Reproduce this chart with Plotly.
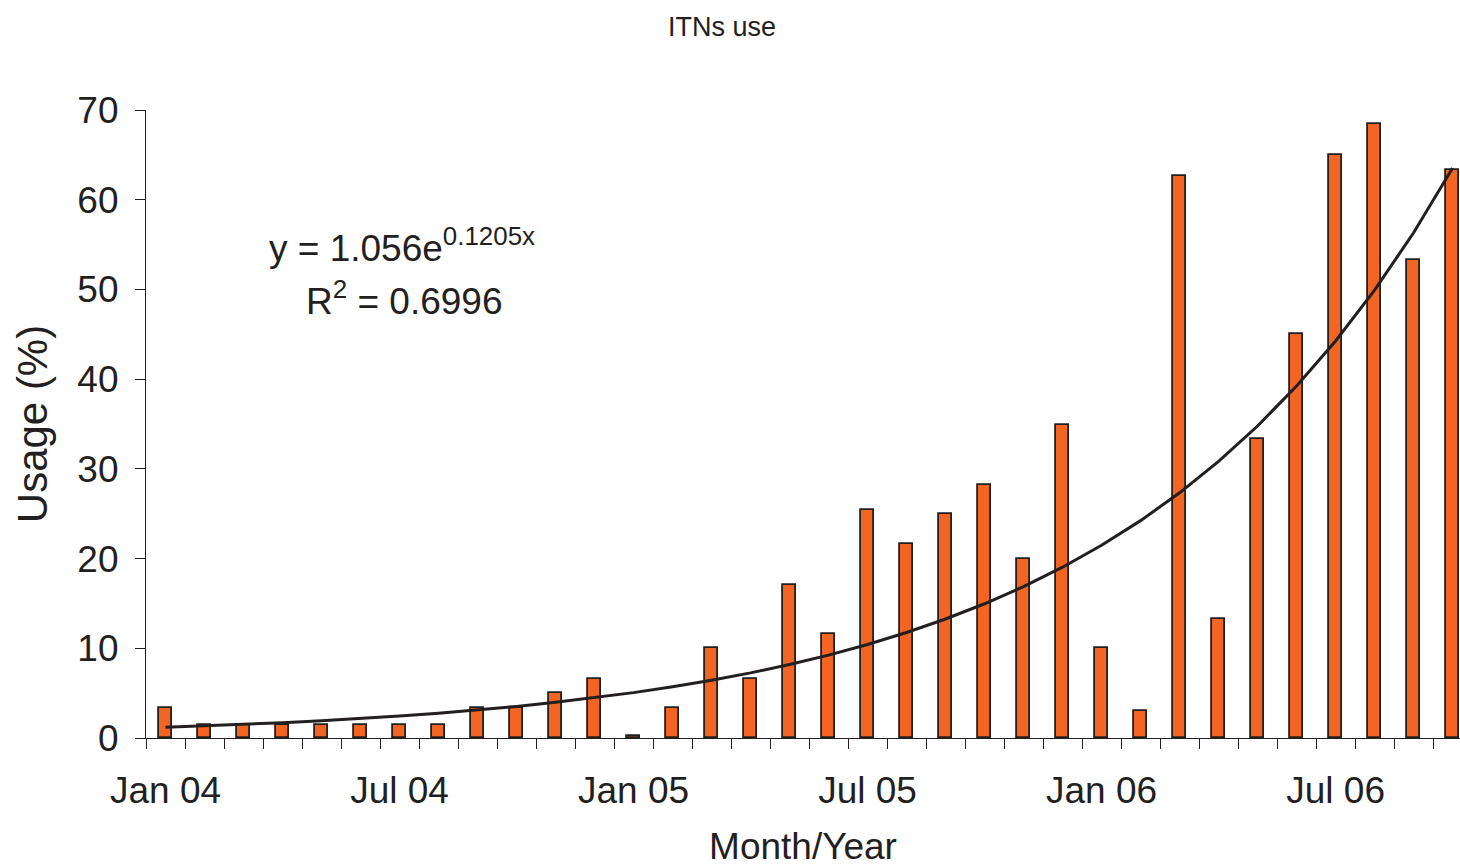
import numpy as np
import plotly.graph_objects as go

months = ["Jan 04","Feb 04","Mar 04","Apr 04","May 04","Jun 04","Jul 04","Aug 04","Sep 04","Oct 04","Nov 04","Dec 04",
          "Jan 05","Feb 05","Mar 05","Apr 05","May 05","Jun 05","Jul 05","Aug 05","Sep 05","Oct 05","Nov 05","Dec 05",
          "Jan 06","Feb 06","Mar 06","Apr 06","May 06","Jun 06","Jul 06","Aug 06","Sep 06","Oct 06"]
usage = [3.4, 1.5, 1.5, 1.5, 1.5, 1.5, 1.5, 1.5, 3.4, 3.4, 5.0, 6.6,
         0.2, 3.4, 10.0, 6.6, 17.1, 11.6, 25.4, 21.6, 25.0, 28.2, 20.0, 34.9,
         10.0, 3.0, 62.6, 13.3, 33.3, 45.0, 65.0, 68.4, 53.3, 63.3]
tick_labels = ["Jan 04", "Jul 04", "Jan 05", "Jul 05", "Jan 06", "Jul 06"]
y_ticks = [0, 10, 20, 30, 40, 50, 60, 70]

# Exponential trendline coefficients as printed on the chart
trend_a = 1.056
trend_b = 0.1205

idx = np.arange(len(months))
trend = trend_a * np.exp(trend_b * (idx + 1))

dark = "#231f20"
font = "Liberation Sans, Arial, sans-serif"

fig = go.Figure()
fig.add_trace(go.Bar(x=idx, y=usage, width=0.34,
                     marker=dict(color="#f26522", line=dict(color=dark, width=1.8)),
                     showlegend=False))
fig.add_trace(go.Scatter(x=idx, y=trend, mode="lines",
                         line=dict(color=dark, width=3), showlegend=False))

label_pos = [months.index(t) for t in tick_labels]

fig.update_layout(
    width=1460, height=867,
    margin=dict(l=146, r=0, t=110, b=129),
    plot_bgcolor="white", paper_bgcolor="white",
    font=dict(family=font, color=dark),
    bargap=0,
    title=dict(text="ITNs use", x=722/1460, xanchor="center", y=1-27/867, yanchor="middle",
               font=dict(size=27, family=font, color=dark)),
    xaxis=dict(range=[-0.5, 33.19], tickmode="array", tickvals=label_pos, ticktext=tick_labels,
               ticks="outside", ticklen=19, tickcolor="rgba(0,0,0,0)", automargin=False,
               tickfont=dict(size=37, family=font, color=dark),
               showline=True, linecolor=dark, linewidth=1.2, showgrid=False, zeroline=False,
               minor=dict(tickmode="array", tickvals=[i - 0.5 for i in range(len(months) + 1)],
                          ticks="outside", ticklen=10, tickwidth=1.2, tickcolor=dark, showgrid=False),
               title=dict(text="Month/Year", font=dict(size=37, family=font, color=dark), standoff=27)),
    yaxis=dict(range=[0, 70], tickmode="array", tickvals=y_ticks, automargin=False,
               ticks="outside", ticklen=10, tickwidth=1.2, tickcolor=dark, ticklabelstandoff=9,
               tickfont=dict(size=37, family=font, color=dark),
               showline=True, linecolor=dark, linewidth=1.2, showgrid=False, zeroline=False,
               title=dict(text="Usage (%)", font=dict(size=42, family=font, color=dark), standoff=16)),
)

fig.add_annotation(xref="paper", yref="paper", x=(402-146)/1314, y=(738-246)/628,
                   text="y = 1.056e<sup>0.1205x</sup>", showarrow=False,
                   font=dict(size=37, family=font, color=dark), xanchor="center", yanchor="middle")
fig.add_annotation(xref="paper", yref="paper", x=(404-146)/1314, y=(738-298)/628,
                   text="R<sup>2</sup> = 0.6996", showarrow=False,
                   font=dict(size=37, family=font, color=dark), xanchor="center", yanchor="middle")

fig.write_html("out.html", config={"displayModeBar": False},
               post_script="document.body.style.margin='0';document.body.style.overflow='hidden';")
